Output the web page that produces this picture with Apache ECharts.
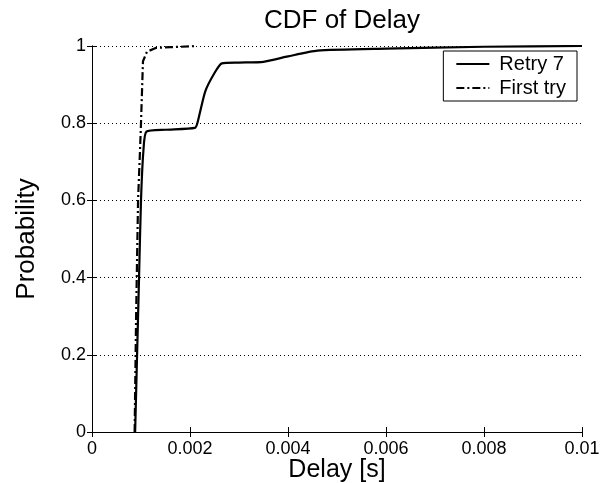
<!DOCTYPE html>
<html>
<head>
    <meta charset='utf-8'>
    <script src="https://cdn.jsdelivr.net/npm/echarts@6/dist/echarts.min.js"></script>
</head>
<body>
<style>
    html, body, #main {
        width: 100%;
        height: 100%;
        margin: 0;
        padding: 0;
        background: #fff;
    }
</style>
<div id="main"></div>
<script>
    // delay [s] and cumulative probability
    var retryDelay = [0.00088, 0.00096, 0.00100, 0.00105, 0.00111, 0.0015, 0.0021, 0.00215, 0.00231, 0.0025, 0.00265, 0.0030, 0.0035, 0.0040, 0.0046, 0.0060, 0.0080, 0.0100];
    var retryProb = [0, 0.40, 0.60, 0.73, 0.778, 0.783, 0.788, 0.80, 0.882, 0.93, 0.955, 0.957, 0.959, 0.973, 0.988, 0.993, 0.998, 1];
    var firstDelay = [0.00087, 0.00090, 0.00094, 0.00098, 0.00100, 0.00104, 0.00112, 0.0013, 0.0016, 0.0020, 0.0021];
    var firstProb = [0, 0.30, 0.60, 0.73, 0.80, 0.96, 0.985, 0.995, 0.997, 0.999, 1];
    var xTicks = ['0', '0.002', '0.004', '0.006', '0.008', '0.01'];

    function pairs(xs, ys) {
        return xs.map(function (x, i) { return [x, ys[i]]; });
    }

    var font = 'Liberation Sans, Arial, sans-serif';
    var chart = echarts.init(document.getElementById('main'));

    chart.setOption({
        animation: false,
        title: {
            text: 'CDF of Delay',
            left: 337,
            textAlign: 'center',
            top: 3,
            textStyle: {fontFamily: font, fontSize: 26, fontWeight: 'normal', color: '#000'}
        },
        legend: {
            right: 28,
            top: 51,
            orient: 'vertical',
            itemWidth: 33,
            itemHeight: 12,
            itemGap: 4,
            padding: [3, 11, 3, 12],
            borderColor: '#000',
            borderWidth: 1,
            backgroundColor: '#fff',
            itemStyle: {opacity: 0},
            textStyle: {fontFamily: font, fontSize: 20, color: '#000', lineHeight: 20, padding: [0, 0, 0, 5]},
            data: ['Retry 7', 'First try']
        },
        grid: {left: 92, right: 23, top: 46, bottom: 51, outerBoundsMode: 'none'},
        xAxis: [{
            type: 'value',
            min: 0,
            max: 0.01,
            interval: 0.002,
            name: 'Delay [s]',
            nameLocation: 'middle',
            nameGap: 26,
            nameMoveOverlap: false,
            nameTextStyle: {fontFamily: font, fontSize: 25, color: '#000'},
            axisLine: {lineStyle: {color: '#000', width: 1}},
            axisTick: {inside: true, length: 5, lineStyle: {color: '#000'}},
            axisLabel: {
                fontFamily: font, fontSize: 18, color: '#000', margin: 8,
                formatter: function (v) { return xTicks[Math.round(v / 0.002)]; }
            },
            splitLine: {show: false}
        }, {
            type: 'value',
            position: 'top',
            min: 0,
            max: 0.01,
            interval: 0.002,
            axisLine: {show: true, lineStyle: {color: '#000', width: 1}},
            axisTick: {inside: true, length: 5, lineStyle: {color: '#000'}},
            axisLabel: {show: false},
            splitLine: {show: false}
        }],
        yAxis: [{
            type: 'value',
            min: 0,
            max: 1,
            interval: 0.2,
            name: 'Probability',
            nameLocation: 'middle',
            nameGap: 52,
            nameTextStyle: {fontFamily: font, fontSize: 26, color: '#000'},
            axisLine: {show: true, lineStyle: {color: '#000', width: 1}},
            axisTick: {show: true, inside: true, length: 5, lineStyle: {color: '#000'}},
            axisLabel: {fontFamily: font, fontSize: 18, color: '#000', margin: 6},
            splitLine: {show: true, lineStyle: {color: '#000', type: [1, 3], width: 1}}
        }, {
            type: 'value',
            position: 'right',
            min: 0,
            max: 1,
            interval: 0.2,
            axisLine: {show: true, lineStyle: {color: '#000', width: 1}},
            axisTick: {show: true, inside: true, length: 5, lineStyle: {color: '#000'}},
            axisLabel: {show: false},
            splitLine: {show: false}
        }],
        series: [{
            name: 'Retry 7',
            type: 'line',
            symbol: 'none',
            smooth: 0.2,
            data: pairs(retryDelay, retryProb),
            lineStyle: {color: '#000', width: 2.2},
            itemStyle: {color: '#000'}
        }, {
            name: 'First try',
            type: 'line',
            symbol: 'none',
            data: pairs(firstDelay, firstProb),
            lineStyle: {color: '#000', width: 2.2, type: [8, 3, 2, 3]},
            itemStyle: {color: '#000'}
        }]
    });
</script>
</body>
</html>
